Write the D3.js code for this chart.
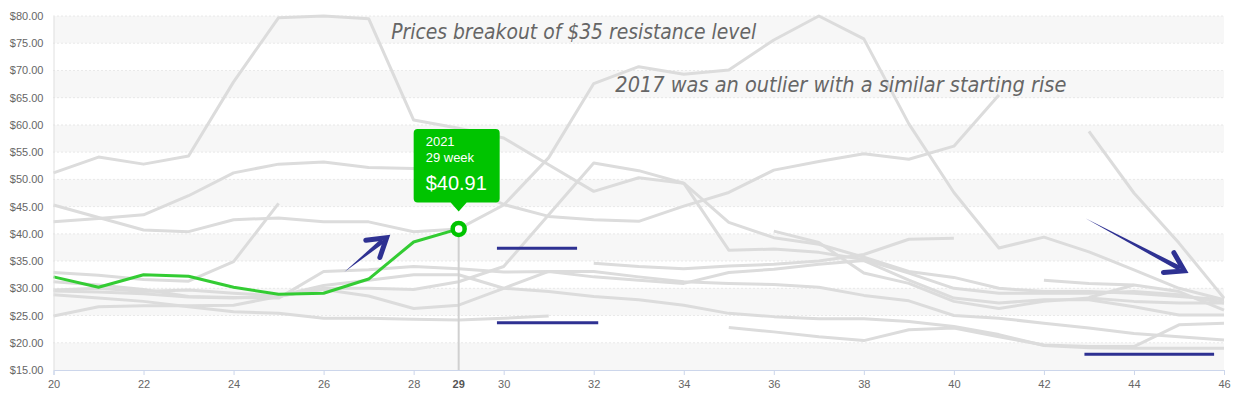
<!DOCTYPE html>
<html>
<head>
<meta charset="utf-8">
<script src="https://cdn.jsdelivr.net/npm/d3@7/dist/d3.min.js"></script>
<style>
body { margin: 0; background: #fff; }
svg { display: block; font-family: "Liberation Sans", Arial, sans-serif; }
</style>
</head>
<body>
<svg id="chart" width="1238" height="398"></svg>
<script>
// weekly price, one line per year, week 20 to 46
var weeks = [20, 21, 22, 23, 24, 25, 26, 27, 28, 29, 30, 31, 32, 33, 34, 35, 36, 37, 38, 39, 40, 41, 42, 43, 44, 45, 46];
var xTicks = [20, 22, 24, 26, 28, 30, 32, 34, 36, 38, 40, 42, 44, 46];
var yTicks = [15, 20, 25, 30, 35, 40, 45, 50, 55, 60, 65, 70, 75, 80];

var price2021 = [32.1, 30.2, 32.5, 32.2, 30.2, 28.9, 29.1, 31.7, 38.5, 40.91, null, null, null, null, null, null, null, null, null, null, null, null, null, null, null, null, null];
var price2017 = [45.3, 43.0, 40.7, 40.4, 42.6, 42.9, 42.2, 42.2, 40.4, 40.9, 45.3, 54.0, 67.6, 70.7, 69.3, 70.1, 75.6, 80.0, 75.8, 60.2, 47.6, 37.4, 39.4, 36.7, 33.4, 30.0, 27.9];
var priceA = [51.2, 54.1, 52.8, 54.3, 67.9, 79.7, 80.0, 79.5, 60.9, 59.4, 57.6, 52.7, 47.8, 50.3, 49.3, 42.1, 39.3, 38.1, 35.7, 33.1, 32.0, 30.0, 29.4, 29.4, 29.1, 28.5, 27.9];
var priceB = [42.2, 42.8, 43.5, 47.0, 51.2, 52.8, 53.2, 52.2, 52.0, 49.0, 45.4, 43.2, 42.6, 42.3, 45.1, 47.6, 51.7, 53.3, 54.7, 53.7, 56.1, 65.5, null, null, null, null, null];
var priceC = [32.9, 32.4, 31.6, 31.3, 34.9, 45.6, null, null, null, null, null, null, 34.6, 34.0, 33.6, 34.1, 34.4, 35.0, 36.2, 39.0, 39.2, null, null, null, null, null, null];
var priceD = [24.9, 26.6, 26.8, 26.8, 26.9, 28.5, 30.0, 30.0, 29.8, 31.2, 34.0, 43.5, 53.0, 51.6, 49.3, 37.0, 37.2, 36.6, 35.3, 32.8, 30.0, 29.1, 29.1, 29.1, 29.4, 28.8, 27.3];
var priceE = [null, null, null, null, null, null, null, null, null, null, null, null, null, null, null, null, 40.5, 38.4, 32.8, 30.9, 27.6, 26.3, 27.6, 28.2, 27.6, 27.3, 27.3];
var priceF = [31.2, 30.6, 29.8, 28.5, 28.3, 28.2, 33.1, 33.4, 34.0, 33.6, 33.0, 33.1, 32.1, 31.5, 30.9, 32.9, 33.5, 34.4, 35.1, 31.5, 28.2, 27.3, 27.9, 27.9, 26.6, 25.1, 25.1];
var priceG = [29.5, 29.3, 29.0, 28.4, 28.2, 28.6, 29.8, 28.6, 26.3, 26.9, 30.0, 33.1, 33.1, 32.1, 31.2, 30.9, 30.7, 30.2, 28.7, 27.7, 25.0, 24.5, 23.6, 22.7, 21.7, 21.1, 20.5];
var priceH = [29.7, 30.0, 29.4, 29.7, 29.1, 28.6, 30.5, 31.5, 32.5, 32.5, 30.0, 29.4, 28.5, 27.9, 26.9, 25.4, 24.8, 24.4, 24.4, 23.9, 23.0, 21.5, 19.5, 19.1, 19.0, 19.0, 19.0];
var priceJ = [28.8, 28.2, 27.6, 26.6, 25.7, 25.4, 24.5, 24.5, 24.3, 24.2, 24.5, 24.9, null, null, null, 22.8, 22.0, 21.1, 20.4, 22.4, 22.7, 21.1, 19.6, 19.3, 19.3, 23.3, 23.6];
var priceK = [null, null, null, null, null, null, null, null, null, null, null, null, null, null, null, null, null, null, null, null, null, null, 31.5, 30.9, 30.6, 29.4, 26.0];
var priceL = [null, null, null, null, null, null, null, null, null, null, null, null, null, null, null, null, null, null, null, null, null, null, null, 28.3, 30.6, null, null];
var priceM = [null, null, null, null, null, null, null, null, null, null, null, null, null, null, null, null, null, null, null, null, null, null, null, 58.8, 47.5, 38.3, 28.2];

var greySeries = [priceA, priceB, priceC, priceD, priceE, priceF, priceG, priceH, priceJ, priceK, priceL, priceM, price2017];

var hoverWeek = 29;
var hoverYear = "2021";

// annotations, in week / price units
var notes = [
    {text: "Prices breakout of $35 resistance level", week: 27.5, price: 75.7, len: 365},
    {text: "2017 was an outlier with a similar starting rise", week: 32.48, price: 66.1, len: 451}
];
var levels = [
    {from: 29.85, to: 31.63, price: 37.35},
    {from: 29.85, to: 32.1, price: 23.68},
    {from: 42.9, to: 45.78, price: 17.9}
];
var arrows = [
    {w1: 26.46, p1: 33.0, w2: 27.4, p2: 39.3},
    {w1: 42.92, p1: 42.85, w2: 45.12, p2: 33.2}
];

(function() {
    var svg = d3.select("#chart");
    var width = 1238, height = 398;
    var margin = {top: 16, right: 14, bottom: 28, left: 53.5};

    var x = d3.scaleLinear().domain([20, 46]).range([margin.left, width - margin.right]);
    var y = d3.scaleLinear().domain([15, 80]).range([height - margin.bottom, margin.top]);

    // alternate bands
    var bands = svg.append("g");
    yTicks.slice(0, -1).forEach(function(t, i) {
        if (i % 2) return;
        bands.append("rect")
            .attr("x", x(20))
            .attr("width", x(46) - x(20))
            .attr("y", y(t + 5))
            .attr("height", y(t) - y(t + 5))
            .attr("fill", "#f7f7f7");
    });

    svg.append("g").selectAll("line")
        .data(yTicks.slice(1))
        .enter().append("line")
        .attr("x1", x(20))
        .attr("x2", x(46))
        .attr("y1", function(d) { return y(d); })
        .attr("y2", function(d) { return y(d); })
        .attr("stroke", "#d6d6d6")
        .attr("stroke-dasharray", "1,3");

    var line = d3.line()
        .defined(function(d) { return d[1] != null; })
        .x(function(d) { return x(d[0]); })
        .y(function(d) { return y(d[1]); });

    function pairs(vals) {
        return weeks.map(function(w, i) { return [w, vals[i]]; });
    }

    svg.append("g").selectAll("path")
        .data(greySeries)
        .enter().append("path")
        .attr("d", function(d) { return line(pairs(d)); })
        .attr("fill", "none")
        .attr("stroke", "#dcdcdc")
        .attr("stroke-width", 3)
        .attr("stroke-linejoin", "round");

    var hoverVal = price2021[weeks.indexOf(hoverWeek)];
    var px = x(hoverWeek), py = y(hoverVal);

    // crosshair
    svg.append("line")
        .attr("x1", px).attr("x2", px)
        .attr("y1", py).attr("y2", y(15))
        .attr("stroke", "#d0d0d0")
        .attr("stroke-width", 2);

    svg.append("path")
        .attr("d", line(pairs(price2021)))
        .attr("fill", "none")
        .attr("stroke", "#33cc33")
        .attr("stroke-width", 3)
        .attr("stroke-linejoin", "round");

    // axes
    var xAxis = svg.append("g")
        .attr("transform", "translate(0," + y(15) + ")")
        .call(d3.axisBottom(x).tickValues(xTicks).tickSize(5).tickPadding(5).tickFormat(d3.format("d")));
    xAxis.select(".domain").attr("stroke", "#ccd6eb");
    xAxis.selectAll(".tick line").attr("stroke", "#ccd6eb");
    xAxis.selectAll("text").attr("fill", "#666").style("font-size", "11px")
        .style("font-family", "'Liberation Sans', Arial, sans-serif");

    var yAxis = svg.append("g")
        .attr("transform", "translate(" + x(20) + ",0)")
        .call(d3.axisLeft(y).tickValues(yTicks).tickSize(0).tickPadding(10)
            .tickFormat(function(d) { return "$" + d3.format(".2f")(d); }));
    yAxis.select(".domain").attr("stroke", "#e0e0e0");
    yAxis.selectAll("text").attr("fill", "#666").style("font-size", "11px")
        .style("font-family", "'Liberation Sans', Arial, sans-serif");

    // white backing so the hovered week label sits cleanly
    svg.append("text")
        .attr("x", px)
        .attr("y", y(15) + 18)
        .attr("text-anchor", "middle")
        .style("font-size", "11px")
        .style("font-weight", "bold")
        .attr("fill", "#555")
        .text(hoverWeek);

    // annotations
    var ink = "#2e3192";
    svg.append("g").selectAll("line")
        .data(levels)
        .enter().append("line")
        .attr("x1", function(d) { return x(d.from); })
        .attr("x2", function(d) { return x(d.to); })
        .attr("y1", function(d) { return y(d.price); })
        .attr("y2", function(d) { return y(d.price); })
        .attr("stroke", ink)
        .attr("stroke-width", 3);

    arrows.forEach(function(a) {
        var x1 = x(a.w1), y1 = y(a.p1), x2 = x(a.w2), y2 = y(a.p2);
        var ang = Math.atan2(y2 - y1, x2 - x1);
        var nx = -Math.sin(ang), ny = Math.cos(ang);
        var ex = x2 - 5 * Math.cos(ang), ey = y2 - 5 * Math.sin(ang);
        svg.append("path")
            .attr("d", "M" + x1 + "," + y1 +
                "L" + (ex + nx * 2.5) + "," + (ey + ny * 2.5) +
                "L" + (ex - nx * 2.5) + "," + (ey - ny * 2.5) + "Z")
            .attr("fill", ink);
        var back = ang + Math.PI, len = 21, spread = 0.56;
        svg.append("path")
            .attr("d", "M" + (x2 + len * Math.cos(back - spread)) + "," + (y2 + len * Math.sin(back - spread)) +
                "L" + x2 + "," + y2 +
                "L" + (x2 + len * Math.cos(back + spread)) + "," + (y2 + len * Math.sin(back + spread)))
            .attr("fill", "none")
            .attr("stroke", ink)
            .attr("stroke-width", 5)
            .attr("stroke-linejoin", "miter")
            .attr("stroke-linecap", "round");
    });

    svg.append("g").selectAll("text")
        .data(notes)
        .enter().append("text")
        .attr("x", function(d) { return x(d.week); })
        .attr("y", function(d) { return y(d.price); })
        .attr("textLength", function(d) { return d.len; })
        .attr("lengthAdjust", "spacingAndGlyphs")
        .style("font-family", "'DejaVu Sans', sans-serif")
        .style("font-weight", "200")
        .style("font-style", "italic")
        .style("font-size", "21px")
        .attr("fill", "#666")
        .text(function(d) { return d.text; });

    // tooltip
    var tip = svg.append("g").attr("transform", "translate(" + px + "," + py + ")");
    var bx0 = -45, bx1 = 41, by0 = -100, by1 = -26.5, r = 4;
    tip.append("path")
        .attr("d", "M" + (bx0 + r) + "," + by0 +
            "H" + (bx1 - r) + "Q" + bx1 + "," + by0 + " " + bx1 + "," + (by0 + r) +
            "V" + (by1 - r) + "Q" + bx1 + "," + by1 + " " + (bx1 - r) + "," + by1 +
            "H8L0," + (by1 + 9) + "L-8," + by1 +
            "H" + (bx0 + r) + "Q" + bx0 + "," + by1 + " " + bx0 + "," + (by1 - r) +
            "V" + (by0 + r) + "Q" + bx0 + "," + by0 + " " + (bx0 + r) + "," + by0 + "Z")
        .attr("fill", "#00c400");
    tip.append("text").attr("x", bx0 + 12).attr("y", by0 + 17)
        .attr("fill", "#fff").style("font-size", "13px").text(hoverYear);
    tip.append("text").attr("x", bx0 + 12).attr("y", by0 + 33.5)
        .attr("fill", "#fff").style("font-size", "13px").text(hoverWeek + " week");
    tip.append("text").attr("x", bx0 + 12).attr("y", by0 + 61.5)
        .attr("fill", "#fff").style("font-size", "20px").text("$" + d3.format(".2f")(hoverVal));

    svg.append("circle")
        .attr("cx", px).attr("cy", py).attr("r", 6)
        .attr("fill", "#fff")
        .attr("stroke", "#00c400")
        .attr("stroke-width", 4.5);
})();
</script>
</body>
</html>
